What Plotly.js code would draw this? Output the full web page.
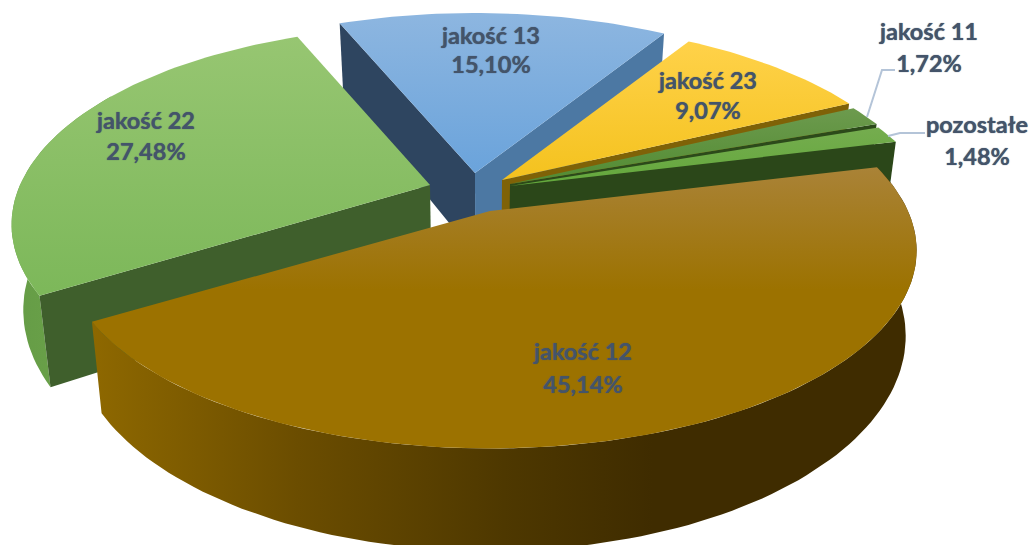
<!DOCTYPE html>
<html><head><meta charset="utf-8">
<script src="https://cdn.plot.ly/plotly-3.0.1.min.js"></script>
<style>html,body{margin:0;padding:0;background:#fff}#c{width:1032px;height:545px}</style>
</head><body><div id="c"></div>
<script>
// data, in drawing order clockwise from the first boundary
const categories = ['jakość 13','jakość 23','jakość 11','pozostałe','jakość 12','jakość 22'];
const shares     = [15.10, 9.07, 1.72, 1.48, 45.14, 27.48];

// label positions
const labelX = [491, 708, 929, 977, 583, 146];
const labelY = [38, 83, 34, 127, 354, 123];
const valueY = [67, 113, 66, 159, 387, 154];

// geometry of the projection
const firstAngle = -23.5, persp = 0.2, depth = 82, converge = 0.975, convergeX = 480;
const apexX = [475, 502, 510, 510, 490, 430];
const apexY = [173, 180, 184, 186, 211, 185];
const radX  = [419, 420, 418, 420, 418, 410];
const radY  = [192, 190, 185, 180, 190, 190];
const turn  = [1.0, 0.5, 0, 0, 1, 1];
const drawOrder = [0, 1, 2, 3, 5, 4];

// styling
const topColors = [
  ['#8DB6E0','#6AA3DB'], ['#FFD24A','#F4C21E'], ['#6C9A4D','#4F8A30'],
  ['#74AC4E','#62A83A'], ['#AA8338','#9C7200'], ['#97C672','#7DB85A']];
const topRange = [[14,175],[40,180],[110,190],[130,190],[165,290],[34,290]];
const startWall = ['#2E4560', null, null, null, null, '#3F5F2C'];
const endWall   = ['#4C78A3', '#7F6207', '#2C4A1A', '#2B4719', null, null];
const outerWall = [null, null, null, null,
  [[0,'#3F2C00'],[0.32,'#3F2C00'],[0.5,'#4E3800'],[0.75,'#6B4D00'],[1,'#8E6800']],
  [[0,'#6FA64C'],[1,'#659C46']]];

const rad = d => d * Math.PI / 180;
const bounds = []; let acc = firstAngle;
shares.forEach(s => { bounds.push([acc, acc + s * 3.6]); acc += s * 3.6; });

function project(i, theta, r, low) {
  const t = theta + turn[i];
  const u = r * Math.sin(rad(t)), v = -r * Math.cos(rad(t));
  const s = 1 / (1 - persp * v);
  let x = apexX[i] + radX[i] * u * s, y = apexY[i] + radY[i] * v * s;
  if (low) { x = convergeX + (x - convergeX) * converge; y += depth * s; }
  return [x, y];
}
function arc(i, a, b, low) {
  const n = Math.max(2, Math.ceil(Math.abs(b - a) / 1.5)), pts = [];
  for (let k = 0; k <= n; k++) pts.push(project(i, a + (b - a) * k / n, 1, low));
  return pts;
}
function face(pts, grad) {
  return {type:'scatter', mode:'lines', x:pts.map(p=>p[0]).concat(pts[0][0]), y:pts.map(p=>p[1]).concat(pts[0][1]),
    fill:'toself', line:{width:0}, fillcolor:'rgba(0,0,0,0)', fillgradient:grad, hoverinfo:'skip', showlegend:false};
}
const solid = c => ({type:'vertical', colorscale:[[0,c],[1,c]]});

const traces = [];
drawOrder.forEach(i => {
  const [a, b] = bounds[i];
  if (outerWall[i]) {
    const lo = Math.max(a, 60), hi = Math.min(b, 300);
    const pts = arc(i, lo, hi, false).concat(arc(i, hi, lo, true));
    const xs = pts.map(p => p[0]);
    // the wall darkens from its left end towards its right end
    traces.push(face(pts, {type:'horizontal', colorscale:outerWall[i], start:Math.max(...xs), stop:Math.min(...xs)}));
  }
  const cut = (th, c) => {
    const pts = [project(i, 0, 0, false), project(i, th, 1, false), project(i, th, 1, true), project(i, 0, 0, true)];
    traces.push(face(pts, solid(c)));
  };
  if (startWall[i]) cut(a, startWall[i]);
  if (endWall[i]) cut(b, endWall[i]);
  const top = [project(i, 0, 0, false)].concat(arc(i, a, b, false));
  traces.push(face(top, {type:'vertical', colorscale:[[0,topColors[i][0]],[1,topColors[i][1]]], start:topRange[i][0], stop:topRange[i][1]}));
});

// leader lines
traces.push({type:'scatter', mode:'lines', x:[867,882,895], y:[117,70,70], line:{color:'#B4C4D8',width:2}, hoverinfo:'skip', showlegend:false});
traces.push({type:'scatter', mode:'lines', x:[888,900,925], y:[136,133,133], line:{color:'#B4C4D8',width:2}, hoverinfo:'skip', showlegend:false});

const labelFont = {family:'Lato, Carlito, sans-serif', size:23.5, color:'#44546A', weight:700, shadow:'0 0 1px #44546A'};
traces.push({type:'scatter', mode:'text', x:labelX, y:labelY, text:categories, textposition:'middle center', textfont:labelFont, hoverinfo:'skip', showlegend:false});
traces.push({type:'scatter', mode:'text', x:labelX, y:valueY, text:shares.map(s=>s.toFixed(2).replace('.',',')+'%'), textposition:'middle center', textfont:labelFont, hoverinfo:'skip', showlegend:false});

Plotly.newPlot('c', traces, {
  width:1032, height:545, margin:{l:0,r:0,t:0,b:0}, paper_bgcolor:'#fff', plot_bgcolor:'#fff', showlegend:false,
  xaxis:{range:[0,1032], visible:false, fixedrange:true},
  yaxis:{range:[545,0], visible:false, fixedrange:true}
}, {displayModeBar:false, staticPlot:true});
</script></body></html>
